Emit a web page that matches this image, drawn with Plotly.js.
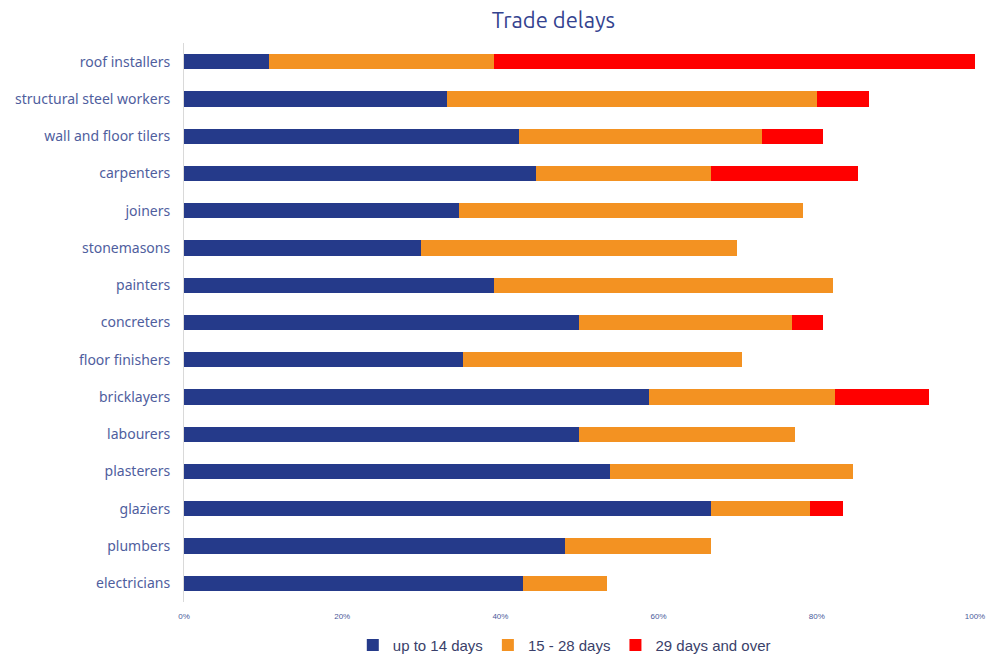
<!DOCTYPE html>
<html>
<head>
<meta charset="utf-8">
<script src="https://cdn.plot.ly/plotly-3.0.1.min.js"></script>
<style>html,body{margin:0;padding:0;background:#fff;}#chart{width:990px;height:657px;}</style>
</head>
<body>
<div id="chart"></div>
<script>
const categories = ["roof installers","structural steel workers","wall and floor tilers","carpenters","joiners","stonemasons","painters","concreters","floor finishers","bricklayers","labourers","plasterers","glaziers","plumbers","electricians"];
const upTo14 = [10.7,33.2,42.4,44.5,34.8,30.0,39.2,49.9,35.3,58.8,49.9,53.9,66.6,48.2,42.9];
const days15to28 = [28.5,46.8,30.7,22.1,43.5,39.9,42.8,27.0,35.2,23.5,27.3,30.7,12.5,18.4,10.6];
const days29plus = [60.8,6.6,7.7,18.6,0,0,0,3.9,0,11.9,0,0,4.2,0,0];
const seriesNames = ["up to 14 days","15 - 28 days","29 days and over"];
const tickVals = [0,20,40,60,80,100];
const tickText = ["0%","20%","40%","60%","80%","100%"];

const colors = ["#253a8a","#f39222","#ff0000"];
const vals = [upTo14, days15to28, days29plus];
const traces = vals.map((v,i)=>({
  type:'bar', orientation:'h', x:v, y:categories, name:seriesNames[i],
  marker:{color:colors[i]}, hoverinfo:'x+y'
}));
const layout = {
  width:990, height:657,
  margin:{l:184,r:15,t:43,b:55},
  barmode:'stack', bargap:0.59,
  paper_bgcolor:'#fff', plot_bgcolor:'#fff',
  title:{text:'Trade delays', x:0.559, xref:'container', xanchor:'center', y:0.969, yref:'container', yanchor:'middle',
    font:{family:'Ubuntu, "Noto Sans", sans-serif', size:22, color:'#34438f'}},
  xaxis:{range:[0,100], tickmode:'array', tickvals:tickVals, ticktext:tickText, showgrid:false, zeroline:false,
    showline:false, ticks:'', ticklabelstandoff:8, tickfont:{family:'Liberation Sans, Arial', size:8, color:'#4a5a9a'}},
  yaxis:{autorange:'reversed', showgrid:false, zeroline:false, showline:true, linecolor:'#d9d9d9', linewidth:1,
    ticks:'', ticklabelstandoff:10,
    tickfont:{family:'"Noto Sans", sans-serif', size:14, color:'#4f5e9e'}},
  legend:{orientation:'h', x:0.57, xref:'container', xanchor:'center', y:0.018, yref:'container', yanchor:'middle',
    font:{family:'Liberation Sans, Arial', size:15, color:'#3a3f6a'}, traceorder:'normal', itemwidth:30},
  showlegend:true
};
Plotly.newPlot('chart', traces, layout, {displayModeBar:false});
</script>
</body>
</html>
